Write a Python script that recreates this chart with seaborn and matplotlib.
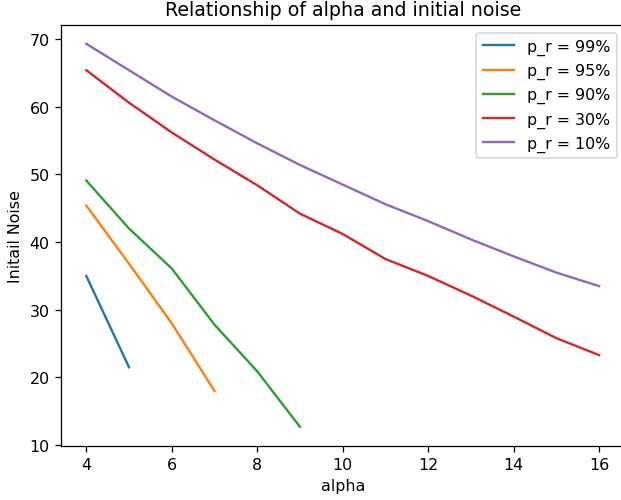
import pandas as pd
import seaborn as sns
import matplotlib.pyplot as plt

# values
alpha_99 = [4, 5]
noise_99 = [35.0, 21.5]

alpha_95 = [4, 5, 6, 7]
noise_95 = [45.4, 36.8, 28.0, 18.0]

alpha_90 = [4, 5, 6, 7, 8, 9]
noise_90 = [49.1, 42.0, 36.1, 27.8, 20.9, 12.7]

alpha_30 = [4, 5, 6, 7, 8, 9, 10, 11, 12, 13, 14, 15, 16]
noise_30 = [65.4, 60.6, 56.2, 52.2, 48.4, 44.2, 41.2, 37.5, 35.0, 32.1, 29.0, 25.8, 23.3]

alpha_10 = [4, 5, 6, 7, 8, 9, 10, 11, 12, 13, 14, 15, 16]
noise_10 = [69.3, 65.4, 61.5, 58.0, 54.6, 51.4, 48.5, 45.6, 43.1, 40.4, 37.9, 35.5, 33.5]

labels = ['p_r = 99%', 'p_r = 95%', 'p_r = 90%', 'p_r = 30%', 'p_r = 10%']
series = [(alpha_99, noise_99), (alpha_95, noise_95), (alpha_90, noise_90),
          (alpha_30, noise_30), (alpha_10, noise_10)]

# long-form table for seaborn
rows = []
for lab, (xs, ys) in zip(labels, series):
    for x, y in zip(xs, ys):
        rows.append({'alpha': x, 'noise': y, 'p_r': lab})
df = pd.DataFrame(rows)

dpi = 114
fig, ax = plt.subplots(figsize=(621 / dpi, 501 / dpi), dpi=dpi)
sns.lineplot(data=df, x='alpha', y='noise', hue='p_r', hue_order=labels,
             palette='tab10', ax=ax)
ax.legend(title=None, loc='upper right')
ax.set_title('Relationship of alpha and initial noise')
ax.set_xlabel('alpha')
ax.set_ylabel('Initail Noise')
# reference is cropped so the right spine falls just outside the image
ax.spines['right'].set_visible(False)
fig.subplots_adjust(left=0.0977, right=1.006, top=0.9487, bottom=0.1078)
plt.savefig('out.png', dpi=dpi)
